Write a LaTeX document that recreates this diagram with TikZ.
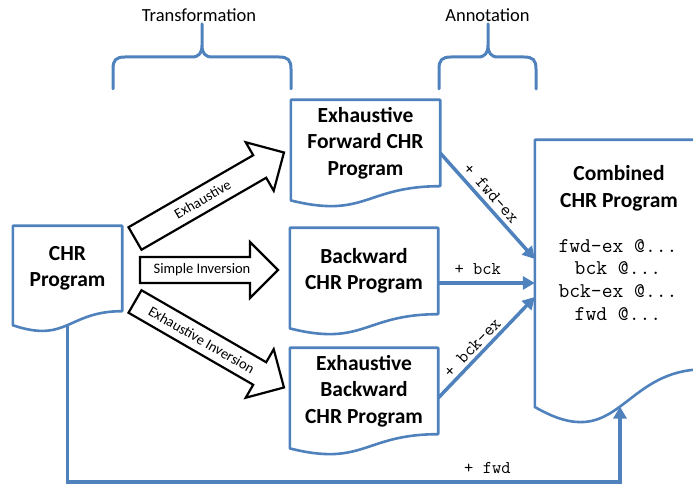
\documentclass[tikz,border=0pt]{standalone}
\usepackage{fontspec}
\setmainfont{Carlito}
\usetikzlibrary{calc,arrows.meta}

\definecolor{chrblue}{RGB}{79,129,189}

\tikzset{
  docnode/.style={inner sep=0pt, align=center, font=\fontsize{21.5}{26.5}\selectfont\bfseries},
  docline/.style={draw=chrblue, line width=2.6pt, line join=round},
  blockarrow/.style={draw=black, fill=white, line width=2.2pt, line join=miter},
  arrowlabel/.style={font=\fontsize{14.5}{16}\selectfont, inner sep=0pt},
  bracelabel/.style={font=\fontsize{18.5}{20}\selectfont},
  brace/.style={draw=chrblue, line width=3pt, line join=round, line cap=round},
  conn/.style={draw=chrblue, line width=3.5pt, -{Triangle[length=12pt,width=13pt]}},
  connlabel/.style={font=\ttfamily\fontsize{18}{20}\selectfont, inner sep=2pt},
}

% wavy "document" outline round a node
\newcommand\docoutline[1]{%
  \draw[docline] (#1.north west) -- (#1.north east) -- (#1.south east)
    .. controls (#1.south) and ($(#1.north)!1.38!(#1.south)$)
    .. ($(#1.north west)!1.1646!(#1.south west)$) -- cycle;}

\begin{document}
\begin{tikzpicture}[x=1pt,y=1pt]
	\useasboundingbox (0,0) rectangle (693,484);

	% braces
	\foreach \l/\m/\r in {113/202/291, 439/488/536} {
		\draw[brace] (\l,395) -- (\l,415) .. controls (\l,424) and (\l+3,427) .. (\l+12,427)
			-- (\m-10,427) .. controls (\m-3,427) and (\m,431) .. (\m,439) -- (\m,460)
			-- (\m,439) .. controls (\m,431) and (\m+3,427) .. (\m+10,427)
			-- (\r-12,427) .. controls (\r-3,427) and (\r,424) .. (\r,415) -- (\r,395);
	}
	\node[bracelabel] (transform) at (199,469) {Transformation};
	\node[bracelabel] (annotate) at (487.5,469) {Annotation};

	% programs
	\node[docnode, minimum width=109pt, minimum height=85pt] (chr) at (67.5,215.5) {CHR\\Program};
	\node[docnode, minimum width=149pt, minimum height=86pt] (fwdex) at (365.5,341) {Exhaustive\\Forward CHR\\Program};
	\node[docnode, minimum width=148pt, minimum height=86pt] (bck) at (364,213) {Backward\\CHR Program};
	\node[docnode, minimum width=148pt, minimum height=86pt] (bckex) at (364,93) {Exhaustive\\Backward\\CHR Program};
	\node[docnode, minimum width=170pt, minimum height=229pt] (comb) at (620,229.5) {};
	\foreach \n in {chr,fwdex,bck,bckex,comb} {
		\docoutline{\n}
	}
	\node[docnode, font=\fontsize{21.5}{27}\selectfont\bfseries] (combtitle) at ([shift={(-1pt,-48.5pt)}]comb.north) {Combined\\CHR Program};
	\node[align=center, font=\ttfamily\fontsize{21}{22.7}\selectfont] (combrules) at ([shift={(-2pt,-140pt)}]comb.north) {fwd-ex @...\\bck @...\\bck-ex @...\\fwd @...};

	% transformations
	\foreach \ang/\px/\py/\len/\mid/\txt in {30/135/245.5/172/78/Exhaustive, 0/140/214/138/62/Simple Inversion, -30/135/182.5/172/77/Exhaustive Inversion} {
		\begin{scope}[shift={(\px,\py)}, rotate=\ang]
			\draw[blockarrow] (0,13) -- (\len-28,13) -- (\len-28,28) -- (\len,0) -- (\len-28,-28) -- (\len-28,-13) -- (0,-13) -- cycle;
			\node[arrowlabel, rotate=\ang] (trans\ang) at (\mid,0) {\txt};
		\end{scope}
	}

	% annotations
	\draw[conn] ([yshift=-10pt]fwdex.east) -- node[connlabel, sloped, above=2pt, pos=.45] (lblfwdex) {+ fwd-ex} ([yshift=-4.5pt]comb.west);
	\draw[conn] ([yshift=-12pt]bck.east) -- node[connlabel, above=5pt, pos=.41] (lblbck) {+ bck} ([yshift=-28.5pt]comb.west);
	\draw[conn] ([yshift=-7pt]bckex.east) -- node[connlabel, sloped, above=1pt, pos=.43] (lblbckex) {+ bck-ex} ([yshift=-42.5pt]comb.west);
	\coordinate (route) at (0,2);
	\draw[conn] ($(chr.north)!1.163!(chr.south)$) coordinate (chrout) -- (chrout |- route)
		-| node[connlabel, above=5pt, pos=.38] (lblfwd) {+ fwd} ($(comb.north)!1.163!(comb.south)$);
\end{tikzpicture}
\end{document}
